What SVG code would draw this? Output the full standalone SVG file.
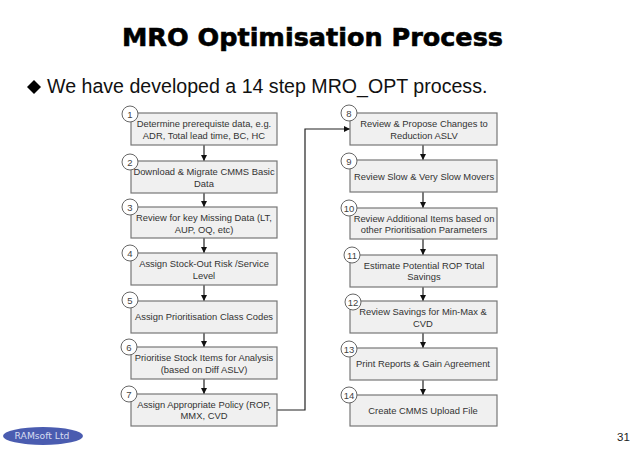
<svg xmlns="http://www.w3.org/2000/svg" width="638" height="452" viewBox="0 0 638 452">
<style>
text{font-family:"Liberation Sans",Arial,sans-serif}
.b{fill:#f0f0f0;stroke:#777;stroke-width:1.2}
.c{fill:#fff;stroke:#666;stroke-width:1}
.t{font-size:9.4px;fill:#333;text-anchor:middle}
.n{font-size:9.5px;fill:#444;text-anchor:middle}
.l{fill:none;stroke:#222;stroke-width:1.2}
</style>
<defs><marker id="a" markerWidth="7" markerHeight="7" refX="6" refY="3" orient="auto" markerUnits="userSpaceOnUse"><path d="M0 0L6 3L0 6z" fill="#111"/></marker></defs>
<rect width="638" height="452" fill="#fff"/>
<g id="title"><text x="122" y="46" style="font-family:'DejaVu Sans',sans-serif;font-weight:700;font-size:25px;stroke:#000;stroke-width:.6" textLength="381" lengthAdjust="spacingAndGlyphs">MRO Optimisation Process</text></g>
<g id="bullet"><path d="M34 80L41 87L34 94L27 87z" fill="#000"/><text x="47" y="93" font-size="19.6px" fill="#111">We have developed a 14 step MRO_OPT process.</text></g>
<g id="connectors">
<path class="l" marker-end="url(#a)" d="M204 145V161"/>
<path class="l" marker-end="url(#a)" d="M204 193V207"/>
<path class="l" marker-end="url(#a)" d="M204 238V253"/>
<path class="l" marker-end="url(#a)" d="M204 285V301"/>
<path class="l" marker-end="url(#a)" d="M204 333V347"/>
<path class="l" marker-end="url(#a)" d="M204 379V394"/>
<path class="l" marker-end="url(#a)" d="M277 410H305V129H350"/>
<path class="l" marker-end="url(#a)" d="M423 145V160"/>
<path class="l" marker-end="url(#a)" d="M423 192V208"/>
<path class="l" marker-end="url(#a)" d="M423 239V255"/>
<path class="l" marker-end="url(#a)" d="M423 287V301"/>
<path class="l" marker-end="url(#a)" d="M423 333V348"/>
<path class="l" marker-end="url(#a)" d="M423 380V395"/>
</g>
<g id="n1"><rect class="b" x="131" y="113" width="146" height="32"/><circle class="c" cx="130" cy="114" r="8"/><text class="n" x="130" y="117.500">1</text><text class="t" x="204" y="127">Determine prerequiste data, e.g.</text><text class="t" x="204" y="139">ADR, Total lead time, BC, HC</text></g>
<g id="n2"><rect class="b" x="131" y="161" width="146" height="32"/><circle class="c" cx="130" cy="162" r="8"/><text class="n" x="130" y="165.500">2</text><text class="t" x="204" y="175">Download &amp; Migrate CMMS Basic</text><text class="t" x="204" y="187">Data</text></g>
<g id="n3"><rect class="b" x="131" y="207" width="146" height="31"/><circle class="c" cx="130" cy="207" r="8"/><text class="n" x="130" y="210.500">3</text><text class="t" x="204" y="221">Review for key Missing Data (LT,</text><text class="t" x="204" y="233">AUP, OQ, etc)</text></g>
<g id="n4"><rect class="b" x="131" y="253" width="146" height="32"/><circle class="c" cx="130" cy="253" r="8"/><text class="n" x="130" y="256.500">4</text><text class="t" x="204" y="267">Assign Stock-Out Risk /Service</text><text class="t" x="204" y="279">Level</text></g>
<g id="n5"><rect class="b" x="131" y="301" width="146" height="32"/><circle class="c" cx="130" cy="300" r="8"/><text class="n" x="130" y="303.500">5</text><text class="t" x="204" y="320">Assign Prioritisation Class Codes</text></g>
<g id="n6"><rect class="b" x="131" y="347" width="146" height="32"/><circle class="c" cx="129" cy="347" r="8"/><text class="n" x="129" y="350.500">6</text><text class="t" x="204" y="361">Prioritise Stock Items for Analysis</text><text class="t" x="204" y="373">(based on Diff ASLV)</text></g>
<g id="n7"><rect class="b" x="131" y="394" width="146" height="32"/><circle class="c" cx="129" cy="394" r="8"/><text class="n" x="129" y="397.500">7</text><text class="t" x="204" y="408">Assign Appropriate Policy (ROP,</text><text class="t" x="204" y="419">MMX, CVD</text></g>
<g id="n8"><rect class="b" x="350" y="113" width="147" height="32"/><circle class="c" cx="349" cy="113" r="8"/><text class="n" x="349" y="116.500">8</text><text class="t" x="424" y="127">Review &amp; Propose Changes to</text><text class="t" x="424" y="139">Reduction ASLV</text></g>
<g id="n9"><rect class="b" x="350" y="160" width="147" height="32"/><circle class="c" cx="349" cy="161" r="8"/><text class="n" x="349" y="164.500">9</text><text class="t" x="424" y="180">Review Slow &amp; Very Slow Movers</text></g>
<g id="n10"><rect class="b" x="350" y="208" width="147" height="31"/><circle class="c" cx="349" cy="208" r="8"/><text class="n" x="349" y="211.500">10</text><text class="t" x="424" y="222">Review Additional Items based on</text><text class="t" x="424" y="233">other Prioritisation Parameters</text></g>
<g id="n11"><rect class="b" x="350" y="255" width="147" height="32"/><circle class="c" cx="352" cy="255" r="8"/><text class="n" x="352" y="258.500">11</text><text class="t" x="424" y="269">Estimate Potential ROP Total</text><text class="t" x="424" y="280">Savings</text></g>
<g id="n12"><rect class="b" x="350" y="301" width="147" height="32"/><circle class="c" cx="353" cy="302" r="8"/><text class="n" x="353" y="305.500">12</text><text class="t" x="423" y="315">Review Savings for Min-Max &amp;</text><text class="t" x="423" y="327">CVD</text></g>
<g id="n13"><rect class="b" x="350" y="348" width="147" height="32"/><circle class="c" cx="349" cy="349" r="8"/><text class="n" x="349" y="352.500">13</text><text class="t" x="423" y="367">Print Reports &amp; Gain Agreement</text></g>
<g id="n14"><rect class="b" x="350" y="395" width="147" height="31"/><circle class="c" cx="349" cy="395" r="8"/><text class="n" x="349" y="398.500">14</text><text class="t" x="423" y="414">Create CMMS Upload File</text></g>
<g id="logo"><ellipse cx="43" cy="436" rx="40" ry="9" fill="#4a5cb0"/><text x="42" y="439" text-anchor="middle" style="font-family:'DejaVu Sans',sans-serif;font-size:9.200px" fill="#d8dcf0">RAMsoft Ltd</text></g>
<g id="page"><text x="617" y="441" font-size="11.500px" fill="#222">31</text></g>
</svg>
